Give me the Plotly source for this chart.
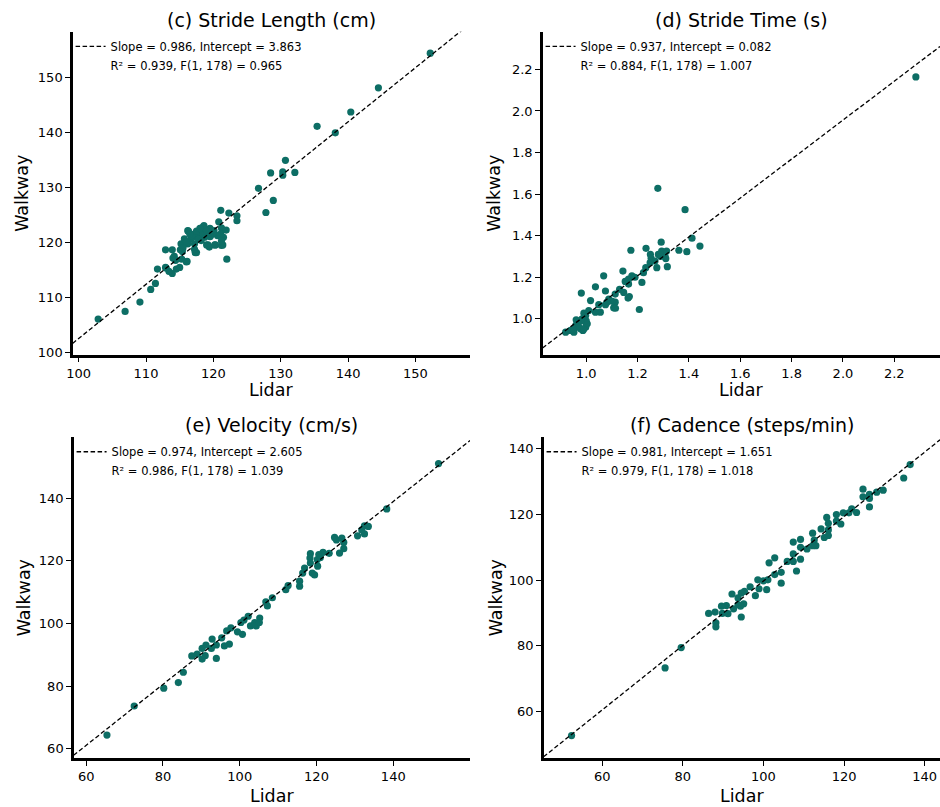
import plotly.graph_objects as go

# ---------------- data ----------------
titles = ["(c) Stride Length (cm)", "(d) Stride Time (s)", "(e) Velocity (cm/s)", "(f) Cadence (steps/min)"]
slopes = [0.986, 0.937, 0.974, 0.981]
intercepts = [3.863, 0.082, 2.605, 1.651]
r_squared = [0.939, 0.884, 0.986, 0.979]
f_values = [0.965, 1.007, 1.039, 1.018]

stride_length_lidar = [152.2, 144.5, 140.4, 135.4, 138.1, 130.7, 128.5, 130.3, 130.3, 132.1, 126.7, 128.9, 127.8,
                       121.1, 122.3, 123.5, 123.5, 120.8, 122.0, 102.9, 106.9, 109.1, 110.7, 111.4, 111.7, 112.9,
                       113.9, 112.9, 113.9, 114.5, 115.0, 114.2, 115.3, 116.1, 115.1, 117.3, 116.3, 121.2, 116.2,
                       117.2, 118.4, 119.1, 120.1, 121.1, 115.7, 116.7, 117.7, 118.7, 119.6, 120.6, 115.2, 116.2,
                       117.2, 118.2, 117.5, 119.0, 120.3, 121.4, 121.5, 121.9, 115.4, 114.0, 114.4, 116.0, 113.0,
                       113.4, 117.2, 117.0, 118.0, 119.5, 116.8, 118.6, 119.4, 119.2, 120.2, 121.2, 121.2,
                       116.5, 117.5, 118.5, 119.5, 117.8, 116.0, 118.0, 119.0, 120.0, 115.5]
stride_length_walkway = [154.4, 148.1, 143.7, 141.1, 139.9, 134.9, 132.6, 132.8, 132.2, 132.7, 129.8, 127.6, 125.4,
                         125.8, 125.3, 124.8, 123.9, 123.7, 116.9, 106.0, 107.4, 109.1, 111.4, 112.5, 115.1, 118.6,
                         118.6, 115.4, 114.3, 115.1, 115.4, 117.4, 116.9, 116.5, 118.6, 118.1, 122.0, 122.6, 122.1,
                         121.5, 122.7, 121.8, 122.1, 121.5, 120.6, 120.6, 120.9, 120.9, 121.2, 121.2, 119.7, 119.7,
                         119.7, 120.3, 118.1, 119.5, 119.5, 119.5, 120.9, 122.2, 118.3, 117.1, 116.7, 116.4, 115.3,
                         114.7, 118.7, 121.0, 121.8, 122.5, 121.2, 123.0, 119.1, 119.5, 119.5, 119.4, 120.2,
                         121.5, 122.0, 121.5, 121.0, 120.5, 120.0, 122.5, 122.0, 121.7, 119.0]

stride_time_lidar = [2.284, 1.279, 1.385, 1.412, 1.292, 1.443, 1.392, 1.361, 1.174, 1.233, 1.294, 1.313, 1.281,
                     1.307, 1.253, 1.268, 1.249, 1.316, 1.275, 1.232, 1.223, 1.143, 1.217, 1.068, 1.178, 1.165,
                     1.152, 1.036, 1.075, 0.981, 1.130, 1.113, 1.146, 1.168, 1.207, 1.017, 1.049, 1.075, 1.107,
                     1.113, 1.088, 1.055, 1.036, 1.010, 0.998, 0.984, 0.961, 0.969, 1.004, 0.987, 0.939, 0.920,
                     0.998, 0.978, 0.952, 1.165, 1.163, 1.101, 1.081, 1.114, 0.991, 1.190, 1.250, 1.290, 1.310,
                     0.960, 1.000, 0.970, 0.990, 0.950, 1.000, 0.980]
stride_time_walkway = [2.164, 1.628, 1.525, 1.388, 1.369, 1.350, 1.323, 1.330, 1.330, 1.339, 1.326, 1.326, 1.310,
                       1.302, 1.291, 1.278, 1.270, 1.251, 1.246, 1.246, 1.222, 1.230, 1.175, 1.207, 1.207, 1.191,
                       1.180, 1.154, 1.134, 1.124, 1.142, 1.119, 1.127, 1.107, 1.045, 1.088, 1.068, 1.068, 1.053,
                       1.080, 1.095, 1.032, 1.032, 1.040, 1.016, 1.000, 0.995, 0.968, 0.976, 0.944, 0.944, 0.936,
                       0.960, 0.952, 0.936, 1.167, 1.100, 1.084, 1.080, 1.051, 1.027, 1.200, 1.310, 1.300, 1.290,
                       0.970, 0.990, 0.960, 0.950, 0.950, 0.980, 0.990]

velocity_lidar = [151.8, 138.3, 132.5, 133.5, 130.7, 132.5, 131.8, 124.7, 125.2, 126.6, 127.1, 127.1, 126.0, 123.3,
                  121.7, 120.6, 118.4, 118.3, 120.2, 121.0, 118.4, 120.3, 118.9, 119.5, 116.9, 116.4, 115.6, 115.6,
                  112.6, 112.0, 108.5, 106.8, 107.2, 105.2, 103.9, 102.8, 102.2, 101.1, 100.3, 100.7, 99.4, 97.7,
                  96.6, 97.3, 96.0, 95.3, 93.9, 92.8, 92.6, 93.9, 91.2, 90.2, 91.0, 90.2, 88.9, 87.5, 85.3, 84.0,
                  80.2, 72.5, 65.4, 104.3, 105.1]
velocity_walkway = [151.1, 136.6, 131.2, 131.0, 128.0, 128.6, 129.9, 127.5, 126.7, 127.3, 125.9, 123.9, 122.5, 122.4,
                    122.7, 122.0, 122.3, 120.9, 120.4, 121.1, 119.3, 118.3, 116.1, 115.5, 117.7, 116.1, 113.5, 111.9,
                    112.1, 110.8, 108.2, 106.9, 105.6, 101.7, 100.3, 99.2, 102.3, 101.1, 100.3, 96.5, 97.3, 98.6,
                    97.6, 93.4, 92.8, 95.4, 93.1, 95.0, 92.0, 88.8, 93.1, 92.0, 89.7, 88.6, 90.2, 89.6, 84.4, 81.1,
                    79.3, 73.6, 64.3, 99.2, 100.3]

cadence_lidar = [136.4, 134.8, 129.7, 128.1, 126.3, 126.3, 126.3, 124.7, 124.7, 123.1, 121.9, 121.2, 119.8, 118.1,
                 118.1, 119.2, 115.7, 116.1, 116.1, 116.1, 115.1, 114.3, 112.2, 112.6, 113.0, 112.2, 110.8, 109.2,
                 107.4, 109.2, 107.4, 109.2, 107.4, 108.2, 105.9, 102.8, 101.4, 104.4, 102.8, 104.4, 101.1, 100.0,
                 98.6, 98.9, 100.8, 98.0, 96.7, 95.3, 94.5, 92.2, 93.7, 93.7, 95.1, 94.3, 92.6, 94.5, 90.8, 89.6,
                 91.2, 89.8, 88.0, 86.4, 88.2, 88.2, 79.6, 75.6, 52.4]
cadence_walkway = [135.2, 131.1, 127.4, 126.8, 126.1, 124.9, 122.3, 127.7, 125.4, 120.6, 121.7, 120.5, 120.5, 120.0,
                   118.0, 117.1, 119.1, 117.3, 115.3, 113.6, 113.0, 115.6, 114.3, 112.2, 110.5, 110.5, 109.5, 112.4,
                   111.6, 110.0, 108.0, 106.4, 105.7, 102.8, 105.7, 106.8, 105.3, 102.4, 101.7, 99.1, 100.1, 99.8,
                   100.1, 97.4, 97.1, 95.3, 98.0, 96.6, 96.1, 95.8, 94.6, 92.6, 92.8, 92.1, 91.3, 88.8, 92.3, 92.1,
                   89.8, 89.9, 90.3, 89.9, 87.0, 85.8, 79.5, 73.3, 52.7]

lidar_series = [stride_length_lidar, stride_time_lidar, velocity_lidar, cadence_lidar]
walkway_series = [stride_length_walkway, stride_time_walkway, velocity_walkway, cadence_walkway]

x_ranges = [[99.1, 158.1], [0.830, 2.378], [56.7, 160.0], [45.45, 143.8]]
y_ranges = [[99.5, 158.3], [0.827, 2.381], [56.9, 159.5], [45.8, 143.5]]
tick_vals = [[100, 110, 120, 130, 140, 150],
             [1.0, 1.2, 1.4, 1.6, 1.8, 2.0, 2.2],
             [60, 80, 100, 120, 140],
             [60, 80, 100, 120, 140]]
tick_fmt = ["d", ".1f", "d", "d"]

# ---------------- layout geometry ----------------
W, H = 940, 807
boxes = [(67, 32, 467, 357), (540, 32, 940, 357), (68, 440, 467, 763), (541, 440, 940, 763)]
ylabel_off = [50, 48, 50, 48]
xlabel_shift = [-23, -23, -26, -26]

POINT = "#0d6e65"
FONT = "DejaVu Sans"

fig = go.Figure()
annotations = []
layout_axes = {}

for i in range(4):
    n = "" if i == 0 else str(i + 1)
    xa, ya = "x" + n, "y" + n
    lg = "legend" + n
    l, t, r, b = boxes[i]
    dx = [l / W, r / W]
    dy = [1 - b / H, 1 - t / H]

    # scatter points
    fig.add_trace(go.Scatter(x=lidar_series[i], y=walkway_series[i], mode="markers",
                             marker=dict(color=POINT, size=7.2, line=dict(width=0)),
                             xaxis=xa, yaxis=ya, showlegend=False, cliponaxis=True))
    # regression line across axis range
    xr = x_ranges[i]
    fig.add_trace(go.Scatter(x=xr, y=[slopes[i] * v + intercepts[i] for v in xr], mode="lines",
                             line=dict(color="black", width=1.3, dash="4.5px,2.5px"),
                             xaxis=xa, yaxis=ya, legend=lg,
                             name=f"Slope = {slopes[i]:.3f}, Intercept = {intercepts[i]:.3f}"))
    fig.add_trace(go.Scatter(x=[None], y=[None], mode="lines", line=dict(color="rgba(0,0,0,0)", width=0),
                             xaxis=xa, yaxis=ya, legend=lg,
                             name=f"R² = {r_squared[i]:.3f}, F(1, 178) = {f_values[i]:.3f}"))

    axis_common = dict(showline=True, linewidth=2.6, linecolor="black", mirror=False,
                       ticks="outside", ticklen=4.5, tickwidth=1.1, tickcolor="black",
                       showgrid=False, zeroline=False,
                       tickfont=dict(family=FONT, size=13, color="black"))
    layout_axes["xaxis" + n] = dict(domain=dx, range=x_ranges[i], anchor=ya, tickvals=tick_vals[i],
                                    tickformat=tick_fmt[i], **axis_common)
    layout_axes["yaxis" + n] = dict(domain=dy, range=y_ranges[i], anchor=xa, tickvals=tick_vals[i],
                                    tickformat=tick_fmt[i], **axis_common)
    layout_axes[lg] = dict(x=(l - 2) / W, y=dy[1], xanchor="left", yanchor="top",
                           bgcolor="rgba(0,0,0,0)", borderwidth=0, itemwidth=30,
                           font=dict(family=FONT, size=11.5, color="black"), tracegroupgap=0)

    cx = (dx[0] + dx[1]) / 2
    annotations.append(dict(text=titles[i], x=cx, y=dy[1], xref="paper", yref="paper",
                            xanchor="center", yanchor="bottom", yshift=-1, showarrow=False,
                            font=dict(family=FONT, size=19, color="black")))
    annotations.append(dict(text="Lidar", x=cx, y=dy[0], xref="paper", yref="paper",
                            xanchor="center", yanchor="top", yshift=xlabel_shift[i], showarrow=False,
                            font=dict(family=FONT, size=17.5, color="black")))
    annotations.append(dict(text="Walkway", x=dx[0], y=(dy[0] + dy[1]) / 2, xref="paper", yref="paper",
                            xanchor="center", yanchor="middle", xshift=-ylabel_off[i], textangle=-90,
                            showarrow=False, font=dict(family=FONT, size=17.5, color="black")))

fig.update_layout(width=W, height=H, margin=dict(l=0, r=0, t=0, b=0),
                  paper_bgcolor="white", plot_bgcolor="white",
                  font=dict(family=FONT, color="black"),
                  annotations=annotations, **layout_axes)

fig.write_html("out.html")
